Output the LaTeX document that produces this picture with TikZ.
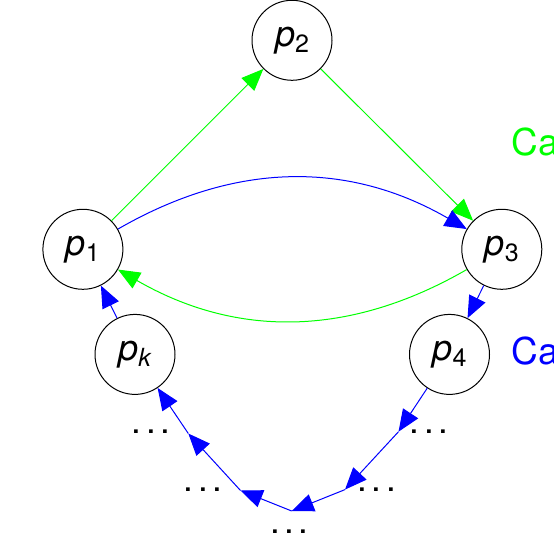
\documentclass[tikz,border=0pt]{standalone}
\usepackage{fontspec}
\setmainfont{TeX Gyre Heros}
\usetikzlibrary{arrows.meta}
\definecolor{cgreen}{RGB}{0,255,0}
\definecolor{cblue}{RGB}{0,0,255}
\newcommand\mylab[1]{\textit{p}\raisebox{-6.5pt}{\fontsize{25}{25}\selectfont #1}}
\newcommand\mydots{.\kern4.5pt.\kern4.5pt.}
\begin{document}
\begin{tikzpicture}[x=1pt,y=-1pt,
  proc/.style={circle,draw=black,line width=1pt,minimum size=80pt,inner sep=0pt,
    font=\fontsize{36}{36}\selectfont},
  garrow/.style={draw=cgreen,line width=1pt,-{Triangle[length=22pt,width=18pt]}},
  barrow/.style={draw=cblue,line width=1pt,-{Triangle[length=22pt,width=18pt]}},
  dotlab/.style={anchor=base,inner sep=0pt,font=\fontsize{35}{35}\selectfont},
  sidelab/.style={anchor=base west,inner sep=0pt,font=\fontsize{37}{37}\selectfont}]
\useasboundingbox (0,0) rectangle (554,546);
% processes
\node[proc] (p2) at (292,40.3) {\mylab{2}};
\node[proc] (p1) at (82.9,249.3) {\mylab{1}};
\node[proc] (p3) at (501.8,249.3) {\mylab{3}};
\node[proc] (pk) at (135,354.4) {\mylab{\textit{k}}};
\node[proc] (p4) at (449.5,354.4) {\mylab{4}};
% chain points
\coordinate (A) at (398.5,431.7);
\coordinate (B) at (345,489.6);
\coordinate (C) at (291.7,511);
\coordinate (D) at (240.5,490.5);
\coordinate (E) at (188.3,433.5);
% dots
\node[dotlab] (dA) at (429,433.5) {\mydots};
\node[dotlab] (dB) at (376.7,491.1) {\mydots};
\node[dotlab] (dC) at (289.3,533.5) {\mydots};
\node[dotlab] (dD) at (203,491.1) {\mydots};
\node[dotlab] (dE) at (151,433) {\mydots};
% side labels
\node[sidelab,text=cgreen] (lg) at (511.5,155) {Ca};
\node[sidelab,text=cblue] (lb) at (511.5,364.4) {Ca};
% green cycle
\draw[garrow] (p1) -- (p2);
\draw[garrow] (p2) -- (p3);
\draw[garrow] (p3) to[bend left=30] (p1);
% blue cycle
\draw[barrow] (p1) to[bend left=30] (p3);
\draw[barrow] (p3) -- (p4);
\draw[barrow] (p4) -- (A);
\draw[barrow] (A) -- (B);
\draw[barrow] (B) -- (C);
\draw[barrow] (C) -- (D);
\draw[barrow] (D) -- (E);
\draw[barrow] (E) -- (pk);
\draw[barrow] (pk) -- (p1);
\end{tikzpicture}
\end{document}
